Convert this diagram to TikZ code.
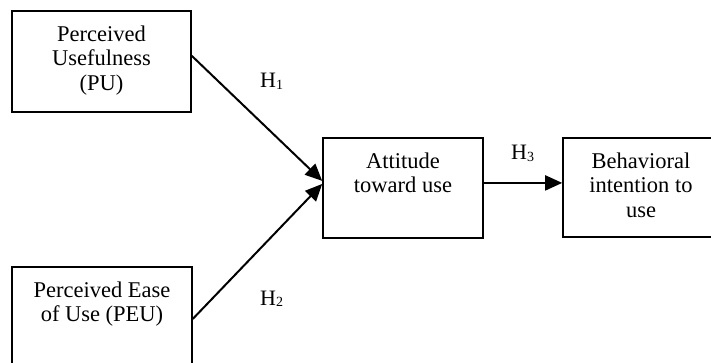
\documentclass[tikz,border=0pt]{standalone}
\usepackage{fontspec}
\setmainfont{Liberation Serif}
\usetikzlibrary{arrows.meta,calc}
\newcommand{\hsub}[1]{H{\fontsize{14}{14}\selectfont\raisebox{-1.5pt}{#1}}}
\begin{document}
\begin{tikzpicture}[x=1pt,y=-1pt,
  box/.style={draw, line width=1.6pt, inner sep=0pt},
  txt/.style={font=\fontsize{22.5}{24.5}\selectfont, align=center, inner sep=0pt, anchor=north},
  lbl/.style={font=\fontsize{22}{24.5}\selectfont, inner sep=0pt, anchor=base west},
  arr/.style={line width=2pt, -{Triangle[length=17pt,width=15pt]}}]
\useasboundingbox (0,0) rectangle (711,363);
\clip (0,0) rectangle (711,363);
% boxes
\node[box, minimum width=179pt, minimum height=101pt] (pu) at (101.5,61.5) {};
\node[box, minimum width=180pt, minimum height=113pt] (peu) at (102,323.5) {};
\node[box, minimum width=160pt, minimum height=100pt] (att) at (403,188) {};
\node[box, minimum width=156pt, minimum height=99pt] (beh) at (641,187.5) {};
% texts
\node[txt] (putxt) at ([yshift=-13.85pt]pu.north) {\strut Perceived\\Usefulness\\(PU)};
\node[txt] (peutxt) at ([yshift=-13.85pt]peu.north) {\strut Perceived Ease\\of Use (PEU)};
\node[txt] (atttxt) at ([yshift=-13.85pt]att.north) {\strut Attitude\\toward use};
\node[txt] (behtxt) at ([yshift=-13.85pt]beh.north) {\strut Behavioral\\intention to\\use};
% connectors
\coordinate (pus) at ($(pu.north east)!0.445!(pu.south east)$);
\coordinate (pue) at ($(att.north west)!0.43!(att.south west)$);
\coordinate (peus) at ($(peu.north east)!0.46!(peu.south east)$);
\coordinate (peue) at ($(att.north west)!0.46!(att.south west)$);
\coordinate (h3s) at ($(att.north east)!0.45!(att.south east)$);
\draw[arr] (pus) -- (pue);
\draw[arr] (peus) -- (peue);
\draw[arr] (h3s) -- (h3s -| beh.west);
% labels
\node[lbl] (h1) at (260,88) {\hsub{1}};
\node[lbl] (h2) at (260,305) {\hsub{2}};
\node[lbl] (h3) at (511,160) {\hsub{3}};
\end{tikzpicture}
\end{document}
